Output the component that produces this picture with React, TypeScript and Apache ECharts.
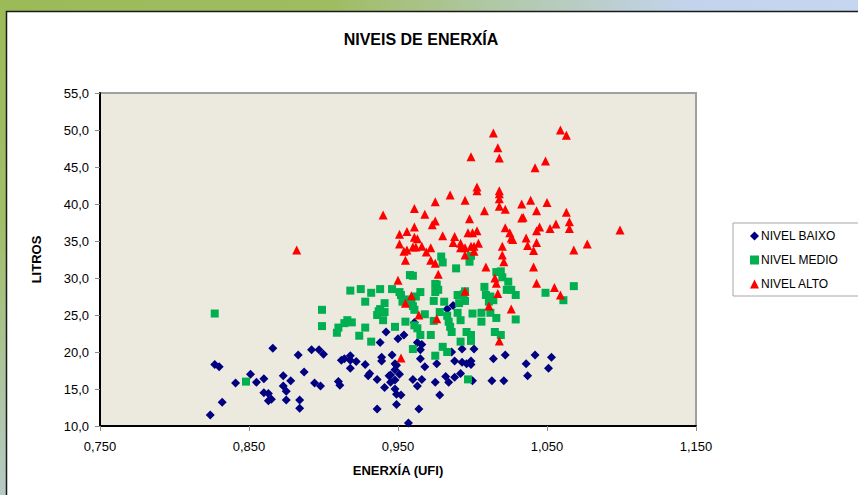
import React, { useEffect, useRef } from "react";
import * as echarts from "echarts";

const TITLE = "NIVEIS DE ENERXÍA";
const X_NAME = "ENERXÍA (UFI)";
const Y_NAME = "LITROS";
const SERIES_NAMES = ["NIVEL BAIXO", "NIVEL MEDIO", "NIVEL ALTO"];

const nivelBaixo: [number, number][] = [
  [0.824, 11.5], [0.832, 13.2], [0.827, 18.3], [0.83, 18.0], [0.841, 15.8], [0.851, 17.0],
  [0.855, 15.9], [0.86, 16.4], [0.866, 20.5], [0.86, 14.5], [0.863, 14.4], [0.863, 13.4],
  [0.865, 13.6], [0.873, 16.8], [0.873, 15.4], [0.875, 14.7], [0.875, 13.5], [0.878, 16.1],
  [0.883, 19.6], [0.884, 13.5], [0.884, 12.4], [0.887, 17.3], [0.892, 20.3], [0.897, 20.3],
  [0.9, 19.7], [0.894, 15.8], [0.898, 15.4], [0.91, 16.0], [0.911, 15.5], [0.912, 18.9],
  [0.914, 19.1], [0.918, 19.5], [0.918, 18.9], [0.922, 18.7], [0.918, 17.8], [0.928, 18.3],
  [0.931, 17.1], [0.93, 16.8], [0.936, 16.3], [0.941, 15.2], [0.936, 12.3], [0.939, 19.3],
  [0.939, 18.8], [0.946, 19.6], [0.938, 21.3], [0.942, 22.7], [0.95, 21.8], [0.945, 16.9],
  [0.948, 17.6], [0.949, 18.2], [0.948, 16.2], [0.945, 15.9], [0.948, 15.0], [0.949, 14.3],
  [0.952, 14.2], [0.949, 12.9], [0.987, 26.3], [0.983, 25.8], [0.961, 24.0], [0.954, 22.3],
  [0.963, 21.3], [0.966, 21.0], [0.965, 20.3], [0.965, 19.1], [0.968, 18.0], [0.948, 18.4],
  [0.951, 17.0], [0.964, 12.3], [0.957, 10.4], [0.96, 16.3], [0.966, 16.3], [0.963, 15.4],
  [0.976, 18.4], [0.975, 15.9], [0.978, 14.2], [0.982, 16.7], [0.984, 15.9], [0.988, 16.6],
  [0.988, 18.8], [0.986, 20.0], [0.993, 20.4], [1.001, 20.4], [0.993, 18.6], [0.996, 18.4],
  [0.999, 18.8], [0.999, 18.3], [0.992, 17.1], [1.0, 16.1], [1.014, 19.1], [1.022, 19.6],
  [1.013, 16.1], [1.021, 16.1], [1.036, 18.4], [1.042, 19.6], [1.037, 16.8], [1.053, 19.3],
  [1.051, 17.8], [0.944, 16.8],
];

const nivelMedio: [number, number][] = [
  [0.827, 25.2], [0.848, 16.0], [0.899, 25.7], [0.899, 23.5], [0.909, 22.6], [0.91, 23.3],
  [0.914, 23.9], [0.916, 24.3], [0.919, 24.0], [0.924, 22.2], [0.928, 23.3], [0.932, 21.4],
  [0.918, 28.3], [0.925, 28.5], [0.932, 28.0], [0.928, 26.8], [0.938, 28.5], [0.946, 28.5],
  [0.941, 26.6], [0.938, 25.8], [0.936, 25.0], [0.94, 24.3], [0.941, 25.4], [0.948, 23.4],
  [0.958, 30.4], [0.96, 30.3], [0.951, 28.1], [0.952, 27.7], [0.955, 27.1], [0.959, 26.7],
  [0.962, 27.5], [0.965, 28.1], [0.96, 26.2], [0.961, 25.7], [0.976, 29.1], [0.975, 28.1],
  [0.977, 28.4], [0.974, 26.9], [0.981, 26.8], [0.99, 27.7], [0.994, 27.8], [0.995, 26.9],
  [0.991, 26.6], [0.995, 28.2], [0.968, 25.1], [0.974, 24.2], [0.978, 25.4], [0.983, 24.9],
  [0.984, 24.1], [0.985, 23.4], [0.986, 22.7], [0.99, 25.3], [0.992, 24.3], [0.955, 24.1],
  [0.963, 23.2], [0.965, 22.3], [0.972, 22.3], [0.996, 22.7], [0.999, 22.3], [0.999, 21.5],
  [1.0, 25.2], [1.006, 25.3], [1.006, 24.1], [0.992, 21.4], [0.98, 20.7], [0.983, 20.0],
  [0.975, 19.5], [0.96, 20.4], [0.997, 16.3], [1.008, 28.8], [1.009, 27.7], [1.012, 27.5],
  [1.011, 26.8], [1.016, 30.8], [1.019, 30.9], [1.02, 30.1], [1.024, 29.5], [1.023, 28.4],
  [1.026, 28.4], [1.029, 27.7], [1.012, 25.3], [1.016, 24.6], [1.029, 24.4], [1.015, 22.7],
  [1.019, 22.3], [1.049, 28.0], [1.061, 27.0], [1.068, 28.9], [0.979, 32.9], [0.98, 32.1],
  [0.989, 31.3], [0.999, 33.0], [0.998, 32.2], [0.975, 29.2], [0.961, 23.6], [0.953, 26.8],
  [0.937, 25.5], [1.014, 27.0],
];

const nivelAlto: [number, number][] = [
  [1.014, 49.6], [1.017, 47.6], [1.018, 46.2], [0.999, 46.4], [1.059, 50.0], [1.063, 49.3],
  [1.042, 44.9], [1.049, 45.8], [1.003, 42.3], [1.003, 41.8], [1.018, 41.8], [1.018, 41.4],
  [1.018, 40.7], [1.018, 39.7], [1.022, 39.3], [0.985, 41.2], [0.995, 40.5], [0.975, 40.3],
  [0.961, 39.4], [0.968, 38.6], [0.94, 38.5], [1.008, 39.1], [0.998, 38.0], [0.975, 37.7],
  [0.973, 37.2], [0.961, 36.9], [0.951, 35.9], [0.956, 36.3], [0.951, 34.6], [0.961, 35.5],
  [0.963, 35.3], [0.96, 34.2], [0.962, 34.2], [0.966, 34.3], [0.969, 33.5], [0.972, 34.1],
  [0.954, 33.6], [0.956, 33.8], [0.955, 32.4], [0.98, 35.7], [0.988, 35.6], [0.987, 34.8],
  [0.992, 34.7], [0.992, 34.1], [0.995, 34.1], [0.995, 33.1], [0.997, 36.1], [1.0, 36.1],
  [1.003, 36.4], [0.999, 34.3], [1.001, 34.3], [1.004, 34.7], [1.001, 33.6], [0.972, 32.4],
  [0.975, 32.0], [0.977, 30.5], [0.95, 29.7], [0.959, 27.6], [0.995, 28.2], [1.009, 31.5],
  [1.015, 30.0], [1.016, 29.3], [1.017, 27.9], [1.02, 34.3], [1.02, 33.1], [1.021, 32.2],
  [1.022, 36.8], [1.025, 36.1], [1.026, 35.4], [1.027, 35.2], [1.033, 40.0], [1.039, 40.5],
  [1.043, 39.1], [1.05, 40.2], [1.033, 38.1], [1.034, 38.2], [1.045, 36.9], [1.043, 36.4],
  [1.052, 36.7], [1.056, 37.3], [1.036, 35.4], [1.037, 34.4], [1.043, 34.8], [1.041, 33.7],
  [1.041, 31.5], [1.043, 29.3], [1.055, 28.7], [1.059, 27.7], [1.063, 38.9], [1.065, 37.6],
  [1.065, 36.7], [1.099, 36.5], [1.077, 34.6], [1.068, 33.8], [0.882, 33.8], [0.955, 26.6],
  [0.964, 25.0], [0.976, 24.5], [0.952, 19.2], [1.011, 26.2], [1.026, 25.8], [1.018, 21.5],
];

const X_MIN = 0.75, X_MAX = 1.15, X_STEP = 0.1;
const Y_MIN = 10, Y_MAX = 55, Y_STEP = 5;

const FONT = "'Liberation Sans', Arial, sans-serif";

export default function App() {
  const ref = useRef<HTMLDivElement>(null);
  useEffect(() => {
    document.body.style.margin = "0";
    if (!ref.current) return;
    const chart = echarts.init(ref.current, null, { renderer: "svg" });
    const option: any = {
      animation: false,
      backgroundColor: "#ffffff",
      textStyle: { fontFamily: FONT },
      graphic: [
        {
          type: "rect",
          shape: { x: 0, y: 0, width: 858, height: 11 },
          style: {
            fill: new echarts.graphic.LinearGradient(0, 0, 1, 0, [
              { offset: 0, color: "#9BBB59" },
              { offset: 0.38, color: "#9EBC60" },
              { offset: 0.6, color: "#B3C9AE" },
              { offset: 0.8, color: "#C3D3EC" },
              { offset: 1, color: "#C6D6F0" },
            ]),
          },
          silent: true,
        },
        {
          type: "rect",
          shape: { x: 0, y: 0, width: 6, height: 495 },
          style: {
            fill: new echarts.graphic.LinearGradient(0, 0, 0, 1, [
              { offset: 0, color: "#9BBB59" },
              { offset: 0.45, color: "#A0BE68" },
              { offset: 1, color: "#B5CAC6" },
            ]),
          },
          silent: true,
        },
        {
          type: "rect",
          shape: { x: 6.5, y: 11.5, width: 860, height: 500 },
          style: { fill: "none", stroke: "#1a1a1a", lineWidth: 1.5 },
          silent: true,
        },
      ],
      title: {
        text: TITLE,
        left: 416,
        top: 26,
        textAlign: "center",
        textStyle: { fontFamily: FONT, fontSize: 16, fontWeight: "bold", color: "#000" },
      },
      legend: {
        orient: "vertical",
        left: 733,
        top: 223,
        padding: [7, 40, 6, 17],
        itemGap: 12,
        itemWidth: 9,
        itemHeight: 9,
        borderColor: "#A6A6A6",
        borderWidth: 1,
        backgroundColor: "#fff",
        textStyle: { fontFamily: FONT, fontSize: 12, color: "#000", padding: [0, 0, 0, -3] },
        data: [
          { name: SERIES_NAMES[0], icon: "diamond" },
          { name: SERIES_NAMES[1], icon: "rect" },
          { name: SERIES_NAMES[2], icon: "triangle" },
        ],
      },
      grid: {
        left: 100,
        top: 93,
        width: 596,
        height: 333,
        show: true,
        backgroundColor: "#ECE9DF",
        borderColor: "#A0A0A0",
        borderWidth: 2,
      },
      xAxis: {
        type: "value",
        min: X_MIN,
        max: X_MAX,
        interval: X_STEP,
        name: X_NAME,
        nameLocation: "middle",
        nameGap: 38,
        nameTextStyle: { fontFamily: FONT, fontSize: 13, fontWeight: "bold", color: "#000" },
        axisLine: { show: true, lineStyle: { color: "#000", width: 2 } },
        axisTick: { show: true, inside: false, length: 5, lineStyle: { color: "#8C8C8C" } },
        axisLabel: {
          margin: 14,
          fontFamily: FONT,
          fontSize: 13,
          color: "#000",
          formatter: (v: number) => v.toFixed(3).replace(".", ","),
        },
        splitLine: { show: false },
      },
      yAxis: {
        type: "value",
        min: Y_MIN,
        max: Y_MAX,
        interval: Y_STEP,
        name: Y_NAME,
        nameLocation: "middle",
        nameRotate: 90,
        nameGap: 57,
        nameTextStyle: { fontFamily: FONT, fontSize: 13, fontWeight: "bold", color: "#000" },
        axisLine: { show: true, lineStyle: { color: "#000", width: 2 } },
        axisTick: { show: true, inside: false, length: 5, lineStyle: { color: "#8C8C8C" } },
        axisLabel: {
          margin: 11,
          fontFamily: FONT,
          fontSize: 13,
          color: "#000",
          formatter: (v: number) => v.toFixed(1).replace(".", ","),
        },
        splitLine: { show: false },
      },
      series: [
        {
          name: SERIES_NAMES[0],
          type: "scatter",
          symbol: "diamond",
          symbolSize: 9,
          data: nivelBaixo,
          itemStyle: { color: "#000080", opacity: 1 },
          z: 2,
        },
        {
          name: SERIES_NAMES[1],
          type: "scatter",
          symbol: "rect",
          symbolSize: 8,
          data: nivelMedio,
          itemStyle: { color: "#00B050", opacity: 1 },
          z: 3,
        },
        {
          name: SERIES_NAMES[2],
          type: "scatter",
          symbol: "triangle",
          symbolSize: 9,
          data: nivelAlto,
          itemStyle: { color: "#FF0000", opacity: 1 },
          z: 4,
        },
      ],
    };
    chart.setOption(option);
    return () => chart.dispose();
  }, []);
  return <div ref={ref} style={{ width: 858, height: 495 }} />;
}
